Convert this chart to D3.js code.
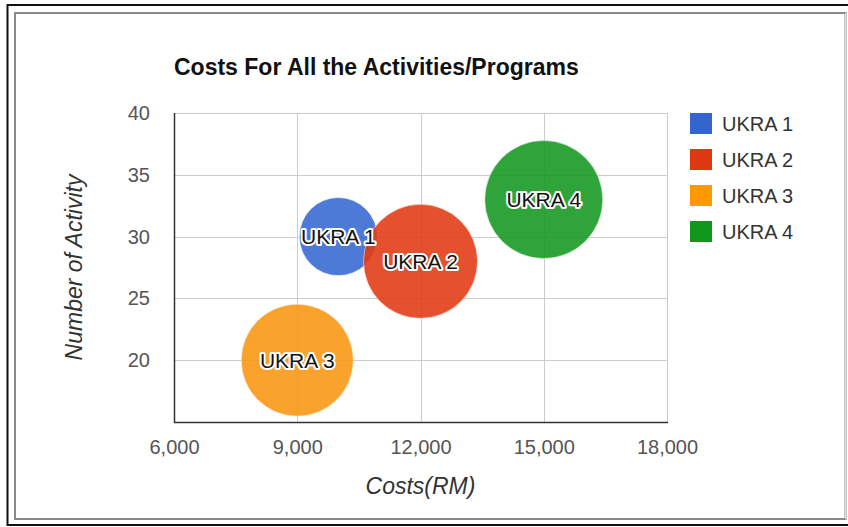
<!DOCTYPE html>
<html>
<head>
<meta charset="utf-8">
<script src="https://cdn.jsdelivr.net/npm/d3@7/dist/d3.min.js"></script>
<style>
  html, body { margin: 0; padding: 0; background: #fff; }
  svg { display: block; font-family: "Liberation Sans", Arial, sans-serif; }
</style>
</head>
<body>
<svg id="chart" width="848" height="527"></svg>
<script>
// Series data
const names = ["UKRA 1", "UKRA 2", "UKRA 3", "UKRA 4"];
const costs = [10000, 12000, 9000, 15000];
const activities = [30, 28, 20, 33];
const bubbleSize = [39, 57, 56, 59];

// Axis ticks
const xTicks = [6000, 9000, 12000, 15000, 18000];
const yTicks = [20, 25, 30, 35, 40];

// Colours
const bubbleColors = ["#3a6cd2", "#e23d17", "#f89815", "#189a25"];
const legendColors = ["#3366cc", "#dc3912", "#ff9900", "#109618"];

const svg = d3.select("#chart");
const W = 848, H = 527;

// Double frame around the chart
svg.append("rect").attr("x", 7.5).attr("y", 5).attr("width", W).attr("height", 520)
  .attr("fill", "none").attr("stroke", "#111").attr("stroke-width", 2);
svg.append("rect").attr("x", 15).attr("y", 13).attr("width", 830.5).attr("height", 506)
  .attr("fill", "none").attr("stroke", "#888").attr("stroke-width", 2);
svg.append("line").attr("x1", 845.5).attr("x2", 845.5).attr("y1", 13).attr("y2", 519)
  .attr("stroke", "#ddd").attr("stroke-width", 1);

const plot = { left: 174, right: 667, top: 113, bottom: 422 };

const x = d3.scaleLinear().domain([6000, 18000]).range([plot.left, plot.right]);
const y = d3.scaleLinear().domain([15, 40]).range([plot.bottom, plot.top]);
const r = d3.scaleLinear().domain([0, d3.max(bubbleSize)]).range([0, 59]);

// Gridlines
const grid = svg.append("g");
grid.selectAll(".gx").data(xTicks.slice(1)).join("line")
  .attr("x1", d => Math.round(x(d)) + 0.5).attr("x2", d => Math.round(x(d)) + 0.5)
  .attr("y1", plot.top).attr("y2", plot.bottom)
  .attr("stroke", "#ccc").attr("stroke-width", 1);
grid.selectAll(".gy").data(yTicks).join("line")
  .attr("x1", plot.left).attr("x2", plot.right)
  .attr("y1", d => Math.round(y(d)) + 0.5).attr("y2", d => Math.round(y(d)) + 0.5)
  .attr("stroke", "#ccc").attr("stroke-width", 1);

// Axis baselines
svg.append("line").attr("x1", plot.left + 0.5).attr("x2", plot.left + 0.5)
  .attr("y1", plot.top).attr("y2", plot.bottom + 1)
  .attr("stroke", "#333").attr("stroke-width", 1.5);
svg.append("line").attr("x1", plot.left).attr("x2", plot.right + 1)
  .attr("y1", plot.bottom + 0.5).attr("y2", plot.bottom + 0.5)
  .attr("stroke", "#333").attr("stroke-width", 1.5);

// Tick labels via d3 axes
const fmt = d3.format(",");
const xAxis = svg.append("g").attr("transform", `translate(0,${plot.bottom})`)
  .call(d3.axisBottom(x).tickValues(xTicks).tickFormat(fmt).tickSize(0).tickPadding(18));
xAxis.select(".domain").remove();
xAxis.selectAll("text").attr("font-size", 20).attr("fill", "#555")
  .attr("font-family", "Liberation Sans, Arial, sans-serif");

const yAxis = svg.append("g").attr("transform", `translate(${plot.left},0)`)
  .call(d3.axisLeft(y).tickValues(yTicks).tickSize(0).tickPadding(24));
yAxis.select(".domain").remove();
yAxis.selectAll("text").attr("font-size", 20).attr("fill", "#555")
  .attr("font-family", "Liberation Sans, Arial, sans-serif");

// Bubbles
const data = names.map((n, i) => ({ name: n, cost: costs[i], act: activities[i], size: bubbleSize[i], color: bubbleColors[i] }));
const bubbles = svg.append("g");
bubbles.selectAll("circle").data(data).join("circle")
  .attr("cx", d => x(d.cost)).attr("cy", d => y(d.act)).attr("r", d => r(d.size))
  .attr("fill", d => d.color).attr("fill-opacity", 0.9)
  .attr("stroke", "#fff").attr("stroke-opacity", 0.5).attr("stroke-width", 1);

// Bubble labels with a white halo
const labels = svg.append("g").attr("font-size", 21).attr("text-anchor", "middle");
labels.selectAll("text.halo").data(data).join("text").attr("class", "halo")
  .attr("x", d => x(d.cost)).attr("y", d => y(d.act)).attr("dy", "0.35em")
  .attr("fill", "none").attr("stroke", "#fff").attr("stroke-width", 4).attr("stroke-linejoin", "round")
  .text(d => d.name);
labels.selectAll("text.lab").data(data).join("text").attr("class", "lab")
  .attr("x", d => x(d.cost)).attr("y", d => y(d.act)).attr("dy", "0.35em")
  .attr("fill", "#111")
  .text(d => d.name);

// Title
svg.append("text").attr("x", plot.left).attr("y", 75)
  .attr("font-size", 23).attr("font-weight", "bold").attr("fill", "#111")
  .text("Costs For All the Activities/Programs");

// Axis titles
svg.append("text").attr("x", (plot.left + plot.right) / 2).attr("y", 494)
  .attr("text-anchor", "middle").attr("font-size", 23).attr("font-style", "italic").attr("fill", "#333")
  .text("Costs(RM)");
svg.append("text")
  .attr("transform", `translate(82,${(plot.top + plot.bottom) / 2}) rotate(-90)`)
  .attr("text-anchor", "middle").attr("font-size", 23).attr("font-style", "italic").attr("fill", "#333")
  .text("Number of Activity");

// Legend
const legend = svg.append("g").selectAll("g").data(data).join("g")
  .attr("transform", (d, i) => `translate(690,${113 + i * 36})`);
legend.append("rect").attr("width", 22).attr("height", 21).attr("fill", (d, i) => legendColors[i]);
legend.append("text").attr("x", 32).attr("y", 18).attr("font-size", 20).attr("fill", "#333")
  .text(d => d.name);
</script>
</body>
</html>
